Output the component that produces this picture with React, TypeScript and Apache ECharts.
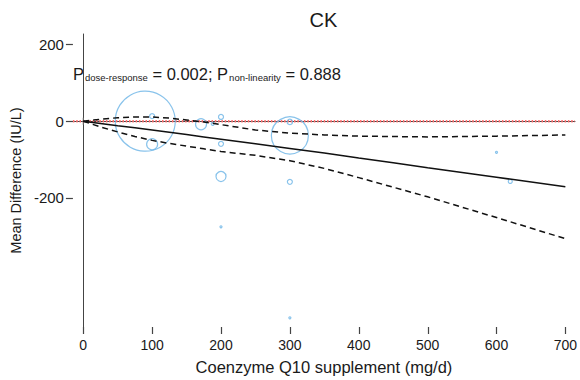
import React, { useEffect, useRef } from "react";
import * as echarts from "echarts";

const titleText = "CK";
const xAxisName = "Coenzyme Q10 supplement (mg/d)";
const yAxisName = "Mean Difference (IU/L)";

const xTicks = [0, 100, 200, 300, 400, 500, 600, 700];
const yTicks = [-200, 0, 200];
const xMin = -15;
const xMax = 714;
const yMin = -536;
const yMax = 227;

// individual study estimates (bubbles)
const studyDose = [90, 100, 100, 171, 188, 200, 200, 200, 200, 300, 300, 300, 300, 600, 620];
const studyMD = [0, 13, -60, -8, -7, 11, -59, -144, -275, -37, -2, -158, -512, -81, -157];
const studyWeight = [60, 5, 11, 11, 3, 5, 5, 10, 2, 37, 5.5, 5, 2, 2, 4];

// pooled dose-response curve
const curveDose = [0, 25, 50, 75, 100, 125, 150, 175, 200, 250, 300, 350, 400, 450, 500, 600, 700];
const fitMD = [0, -6, -12, -17, -23, -29, -35, -41, -47, -59, -71, -83, -96, -108, -121, -146, -171];
const upperMD = [0, 5, 9, 11, 11, 8, 3, -2, -9, -23, -31, -36, -39, -40, -41, -39, -36];
const lowerMD = [0, -15, -28, -40, -50, -58, -65, -72, -79, -89, -103, -123, -147, -172, -197, -251, -306];

const pDoseResponse = "0.002";
const pNonLinearity = "0.888";

const FONT = "'Liberation Sans', Arial, Helvetica, sans-serif";
const AXIS_COLOR = "#444";

export default function App() {
  const ref = useRef<HTMLDivElement>(null);

  useEffect(() => {
    if (!ref.current) return;
    const chart = echarts.init(ref.current, undefined, { renderer: "svg" });

    const bubbles = studyDose.map((d, i) => [d, studyMD[i], studyWeight[i]]);
    const pair = (ys: number[]) => curveDose.map((d, i) => [d, ys[i]]);

    const gridLeft = 70.5;
    const gridRight = 3.5;
    const plotCenterX = gridLeft + (580 - gridLeft - gridRight) / 2;

    const tickData = [
      ...xTicks.map((t) => [t, yMin, 0]),
      ...yTicks.map((t) => [xMin, t, 1]),
    ];

    chart.setOption({
      animation: false,
      textStyle: { fontFamily: FONT },
      grid: { left: gridLeft, right: gridRight, top: 34, bottom: 50.7, containLabel: false },
      xAxis: {
        type: "value",
        min: xMin,
        max: xMax,
        name: xAxisName,
        nameLocation: "middle",
        nameGap: 31,
        nameTextStyle: { fontSize: 16.5, color: "#1a1a1a", fontFamily: FONT },
        axisLine: { show: true, lineStyle: { color: AXIS_COLOR, width: 1 } },
        axisTick: { show: false },
        axisLabel: { fontSize: 14, color: "#1a1a1a", margin: 11, customValues: xTicks, fontFamily: FONT },
        splitLine: { show: false },
      },
      yAxis: {
        type: "value",
        min: yMin,
        max: yMax,
        name: yAxisName,
        nameLocation: "middle",
        nameGap: 46,
        nameTextStyle: { fontSize: 14.5, color: "#1a1a1a", fontFamily: FONT },
        axisLine: { show: true, lineStyle: { color: AXIS_COLOR, width: 1 } },
        axisTick: { show: false },
        axisLabel: { fontSize: 15, color: "#1a1a1a", margin: 9, customValues: yTicks, fontFamily: FONT },
        splitLine: { show: false },
      },
      graphic: [
        {
          type: "text",
          x: plotCenterX,
          y: 10,
          style: {
            text: titleText,
            fontSize: 20,
            fontFamily: FONT,
            fill: "#1a1a1a",
            align: "center",
            verticalAlign: "top",
          },
        },
        {
          type: "text",
          x: 73,
          y: 64,
          style: {
            text: `{m|P}{s|dose-response}{m| = ${pDoseResponse}; P}{s|non-linearity}{m| = ${pNonLinearity}}`,
            fontFamily: FONT,
            fill: "#1a1a1a",
            verticalAlign: "top",
            rich: {
              m: { fontSize: 16.5, fontFamily: FONT, fill: "#1a1a1a", lineHeight: 18, verticalAlign: "bottom" },
              s: { fontSize: 9.5, fontFamily: FONT, fill: "#1a1a1a", lineHeight: 18, verticalAlign: "bottom", padding: [0, 0, 0, 1] },
            },
          },
        },
      ],
      series: [
        {
          // axis tick marks (outward)
          type: "custom",
          data: tickData,
          clip: false,
          silent: true,
          z: 10,
          renderItem: (params: any, api: any) => {
            const p = api.coord([api.value(0), api.value(1)]);
            const isY = api.value(2) === 1;
            const x = Math.round(p[0]) + 0.5;
            const y = Math.round(p[1]) + 0.5;
            const shape = isY
              ? { x1: p[0] - 7, y1: y, x2: p[0], y2: y }
              : { x1: x, y1: p[1], x2: x, y2: p[1] + 7 };
            return {
              type: "line",
              shape,
              style: { stroke: AXIS_COLOR, lineWidth: 1.2 },
            };
          },
        },
        {
          type: "line",
          data: [[xMin, 0], [xMax, 0]],
          symbol: "none",
          lineStyle: { color: "#ff7070", width: 2.5, type: [1.5, 1.8] },
          silent: true,
          z: 1,
        },
        {
          type: "scatter",
          data: bubbles,
          symbol: "circle",
          symbolSize: (v: number[]) => v[2],
          itemStyle: { color: "rgba(0,0,0,0)", borderColor: "#6cb4e6", borderWidth: 1.2 },
          silent: true,
          z: 2,
        },
        {
          type: "scatter",
          data: [[0, 0]],
          symbol: "rect",
          symbolSize: [1.2, 7],
          itemStyle: { color: "#777" },
          silent: true,
          z: 3,
        },
        {
          type: "line",
          data: pair(fitMD),
          symbol: "none",
          lineStyle: { color: "#111", width: 1.5, type: "solid" },
          silent: true,
          z: 4,
        },
        {
          type: "line",
          data: pair(upperMD),
          symbol: "none",
          lineStyle: { color: "#111", width: 1.5, type: [6, 4] },
          silent: true,
          z: 4,
        },
        {
          type: "line",
          data: pair(lowerMD),
          symbol: "none",
          lineStyle: { color: "#111", width: 1.5, type: [6, 4] },
          silent: true,
          z: 4,
        },
      ],
    });

    return () => chart.dispose();
  }, []);

  return <div ref={ref} style={{ width: 580, height: 380, position: "absolute", left: 0, top: 0 }} />;
}
